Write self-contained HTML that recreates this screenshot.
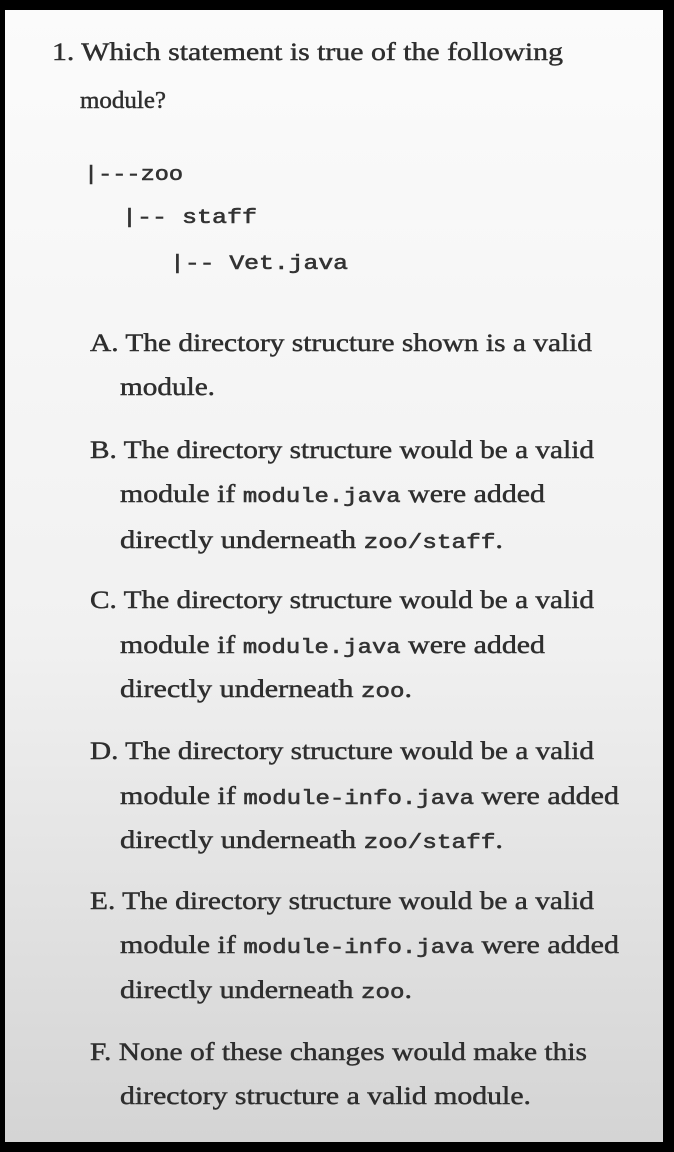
<!DOCTYPE html>
<html><head><meta charset="utf-8"><style>
html,body{margin:0;padding:0;background:#000;}
svg{display:block}
text{font-family:"Liberation Serif",serif;font-size:25px;fill:#2e2e2e;stroke:#2e2e2e;stroke-width:0.45}
.m{font-family:"Liberation Mono",monospace;font-size:20px;font-weight:normal;fill:#333;stroke:#333;stroke-width:0.6}
</style></head><body>
<svg width="674" height="1152" viewBox="0 0 674 1152" xmlns="http://www.w3.org/2000/svg">
<defs><linearGradient id="g" x1="0" y1="0" x2="0" y2="1">
<stop offset="0" stop-color="#fbfbfb"/><stop offset="0.55" stop-color="#f1f1f1"/><stop offset="1" stop-color="#d4d4d4"/></linearGradient></defs>
<rect x="0" y="0" width="674" height="1152" fill="#000"/>
<rect x="5" y="10" width="658" height="1132" fill="url(#g)"/>
<text x="52" y="60" textLength="511" lengthAdjust="spacingAndGlyphs">1. Which statement is true of the following</text>
<text x="80" y="108" textLength="86" lengthAdjust="spacingAndGlyphs" style="font-size:24px">module?</text>
<text class="m" x="84" y="180" textLength="99" lengthAdjust="spacingAndGlyphs">|---zoo</text>
<text class="m" x="122" y="223" textLength="135" lengthAdjust="spacingAndGlyphs">|-- staff</text>
<text class="m" x="170" y="269" textLength="178" lengthAdjust="spacingAndGlyphs">|-- Vet.java</text>

<text x="90" y="351" textLength="502" lengthAdjust="spacingAndGlyphs">A. The directory structure shown is a valid</text>
<text x="120" y="395" textLength="95" lengthAdjust="spacingAndGlyphs">module.</text>

<text x="90" y="458" textLength="504" lengthAdjust="spacingAndGlyphs">B. The directory structure would be a valid</text>
<text x="120" y="502" textLength="425" lengthAdjust="spacingAndGlyphs">module if <tspan class="m">module.java</tspan> were added</text>
<text x="120" y="548" textLength="383" lengthAdjust="spacingAndGlyphs">directly underneath <tspan class="m">zoo/staff</tspan>.</text>

<text x="90" y="608" textLength="504" lengthAdjust="spacingAndGlyphs">C. The directory structure would be a valid</text>
<text x="120" y="653" textLength="425" lengthAdjust="spacingAndGlyphs">module if <tspan class="m">module.java</tspan> were added</text>
<text x="120" y="697" textLength="292" lengthAdjust="spacingAndGlyphs">directly underneath <tspan class="m">zoo</tspan>.</text>

<text x="90" y="759" textLength="504" lengthAdjust="spacingAndGlyphs">D. The directory structure would be a valid</text>
<text x="120" y="804" textLength="499" lengthAdjust="spacingAndGlyphs">module if <tspan class="m">module-info.java</tspan> were added</text>
<text x="120" y="848" textLength="383" lengthAdjust="spacingAndGlyphs">directly underneath <tspan class="m">zoo/staff</tspan>.</text>

<text x="90" y="909" textLength="504" lengthAdjust="spacingAndGlyphs">E. The directory structure would be a valid</text>
<text x="120" y="953" textLength="499" lengthAdjust="spacingAndGlyphs">module if <tspan class="m">module-info.java</tspan> were added</text>
<text x="120" y="998" textLength="292" lengthAdjust="spacingAndGlyphs">directly underneath <tspan class="m">zoo</tspan>.</text>

<text x="90" y="1060" textLength="497" lengthAdjust="spacingAndGlyphs">F. None of these changes would make this</text>
<text x="120" y="1104" textLength="411" lengthAdjust="spacingAndGlyphs">directory structure a valid module.</text>
</svg>
</body></html>
